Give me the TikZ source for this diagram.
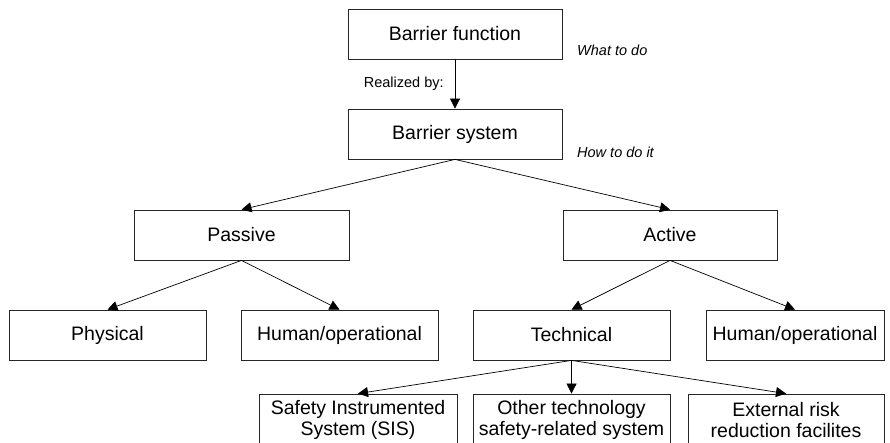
\documentclass[tikz,border=0pt]{standalone}
\usepackage{fontspec}
\setmainfont{Liberation Sans}
\usetikzlibrary{arrows.meta}

\begin{document}
\begin{tikzpicture}[x=1pt,y=-1pt,
    box/.style={draw=black!85, line width=0.8pt, inner sep=0pt, minimum height=50pt,
                font=\fontsize{19.5}{21}\selectfont, align=center},
    note/.style={font=\fontsize{14.5}{17}\selectfont\itshape, inner sep=0pt},
    arr/.style={line width=0.7pt, -{Triangle[length=10pt,width=10pt]}}]
    \useasboundingbox (0,0) rectangle (890,443);

    % top
    \node[box, minimum width=214pt] (func) at (455,34) {Barrier function};
    \node[box, minimum width=214pt] (sys) at (455,134) {Barrier system};
    \node[note, anchor=west] (what) at (577,50) {What to do};
    \node[note, anchor=west] (how) at (577,152) {How to do it};
    \draw[arr] (func) -- node[left=11pt, inner sep=0pt, font=\fontsize{14.5}{17}\selectfont] (realized) {Realized by:} (sys);

    % passive / active
    \node[box, minimum width=215pt] (passive) at (241.5,235) {Passive};
    \node[box, minimum width=214pt] (active) at (670,235) {Active};
    \draw[arr] (sys.south) -- (passive.north);
    \draw[arr] (sys.south) -- (active.north);

    \node[box, minimum width=197pt] (physical) at (107.5,335) {Physical};
    \node[box, minimum width=197pt] (humanp) at (339.5,335) {Human/operational};
    \node[box, minimum width=197pt] (technical) at (571.5,335) {Technical};
    \node[box, minimum width=178pt] (humana) at (795,335) {Human/operational};
    \draw[arr] (passive.south) -- (physical.north);
    \draw[arr] (passive.south) -- (humanp.north);
    \draw[arr] (active.south) -- (technical.north);
    \draw[arr] (active.south) -- (humana.north);

    % technical systems
    \node[box, minimum width=198pt, minimum height=52pt] (sis) at (358,420) {Safety Instrumented\\System (SIS)};
    \node[box, minimum width=197pt, minimum height=52pt] (other) at (571.5,420) {Other technology\\safety-related system};
    \node[box, minimum width=196pt, minimum height=52pt] (external) at (786,420) {External risk\\reduction facilites};
    \foreach \n in {sis,other,external}
        \draw[arr] (technical.south) -- (\n.north);

\end{tikzpicture}
\end{document}
